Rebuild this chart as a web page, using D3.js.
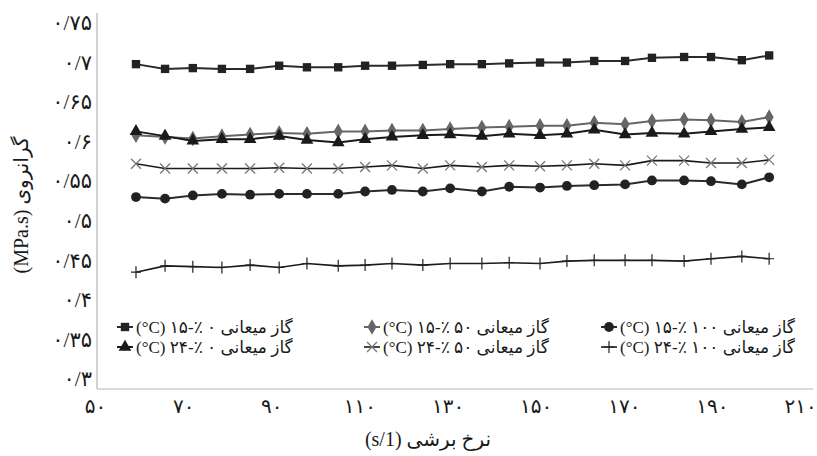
<!DOCTYPE html>
<html>
<head>
<meta charset="utf-8">
<script src="https://cdn.jsdelivr.net/npm/d3@7"></script>
<style>
  body { margin: 0; background: #fff; }
  text { font-family: "Liberation Serif", "DejaVu Sans", serif; fill: #1a1a1a; }
</style>
</head>
<body>
<div class="chart"></div>
<script>
// shear rate (1/s)
const shearRate = [59.3, 65.9, 72.2, 78.8, 85.2, 91.8, 98.1, 105.2, 111.3, 117.4, 124.4, 130.6,
                   137.8, 144.0, 151.0, 157.1, 163.3, 170.3, 176.4, 183.7, 189.8, 196.8, 203.0];

// viscosity (MPa.s)
const gas0_15   = [0.698, 0.692, 0.693, 0.692, 0.692, 0.696, 0.694, 0.694, 0.696, 0.696, 0.697, 0.698,
                   0.698, 0.699, 0.700, 0.700, 0.702, 0.702, 0.706, 0.707, 0.707, 0.703, 0.709];
const gas50_15  = [0.608, 0.606, 0.604, 0.607, 0.609, 0.611, 0.610, 0.613, 0.613, 0.614, 0.614, 0.616,
                   0.618, 0.619, 0.620, 0.620, 0.624, 0.622, 0.626, 0.628, 0.627, 0.625, 0.631];
const gas100_15 = [0.530, 0.528, 0.532, 0.534, 0.533, 0.534, 0.534, 0.534, 0.537, 0.539, 0.537, 0.541,
                   0.537, 0.543, 0.542, 0.544, 0.545, 0.546, 0.551, 0.551, 0.550, 0.546, 0.555];
const gas0_24   = [0.613, 0.607, 0.601, 0.603, 0.603, 0.607, 0.602, 0.599, 0.603, 0.606, 0.608, 0.609,
                   0.607, 0.610, 0.608, 0.610, 0.615, 0.609, 0.611, 0.610, 0.613, 0.616, 0.618];
const gas50_24  = [0.572, 0.566, 0.566, 0.566, 0.566, 0.567, 0.566, 0.566, 0.568, 0.570, 0.566, 0.570,
                   0.568, 0.570, 0.569, 0.570, 0.572, 0.570, 0.576, 0.576, 0.573, 0.573, 0.577];
const gas100_24 = [0.435, 0.443, 0.442, 0.441, 0.444, 0.441, 0.446, 0.443, 0.444, 0.446, 0.444, 0.446,
                   0.446, 0.447, 0.446, 0.449, 0.450, 0.450, 0.450, 0.449, 0.452, 0.455, 0.452];

const seriesNames = [
  "(°C) ۱۵-٪ ۰ گاز میعانی",
  "(°C) ۱۵-٪ ۵۰ گاز میعانی",
  "(°C) ۱۵-٪ ۱۰۰ گاز میعانی",
  "(°C) ۲۴-٪ ۰ گاز میعانی",
  "(°C) ۲۴-٪ ۵۰ گاز میعانی",
  "(°C) ۲۴-٪ ۱۰۰ گاز میعانی"
];

const yTicks = [0.3, 0.35, 0.4, 0.45, 0.5, 0.55, 0.6, 0.65, 0.7, 0.75];
const yTickLabels = ["۰/۳", "۰/۳۵", "۰/۴", "۰/۴۵", "۰/۵", "۰/۵۵", "۰/۶", "۰/۶۵", "۰/۷", "۰/۷۵"];
const xTicks = [50, 70, 90, 110, 130, 150, 170, 190, 210];
const xTickLabels = ["۵۰", "۷۰", "۹۰", "۱۱۰", "۱۳۰", "۱۵۰", "۱۷۰", "۱۹۰", "۲۱۰"];

const width = 817, height = 456;
const frame = {left: 97, top: 13, right: 813, bottom: 389};

const svg = d3.select(".chart").append("svg")
    .attr("width", width)
    .attr("height", height);

const xScale = d3.scaleLinear().domain([50, 210]).range([95, 800]);
const yScale = d3.scaleLinear().domain([0.3, 0.75]).range([379, 23]);

// frame lines
svg.append("line")
    .attr("x1", frame.left).attr("x2", frame.left)
    .attr("y1", frame.top).attr("y2", frame.bottom)
    .attr("stroke", "#b5b5b5").attr("stroke-width", 1.2);
svg.append("line")
    .attr("x1", frame.left).attr("x2", frame.right)
    .attr("y1", frame.bottom).attr("y2", frame.bottom)
    .attr("stroke", "#b5b5b5").attr("stroke-width", 1.2);

// axes
const yAxis = d3.axisLeft(yScale)
    .tickValues(yTicks)
    .tickFormat((d, i) => yTickLabels[i])
    .tickSize(0)
    .tickPadding(5);

svg.append("g")
    .attr("class", "axis y-axis")
    .attr("transform", `translate(${frame.left},0)`)
    .call(yAxis)
    .call(g => g.select(".domain").remove())
    .selectAll("text")
    .attr("font-size", 21)
    .attr("font-family", "DejaVu Sans")
    .attr("fill", "#1a1a1a");

const xAxis = d3.axisBottom(xScale)
    .tickValues(xTicks)
    .tickFormat((d, i) => xTickLabels[i])
    .tickSize(0)
    .tickPadding(10);

svg.append("g")
    .attr("class", "axis x-axis")
    .attr("transform", `translate(0,${frame.bottom})`)
    .call(xAxis)
    .call(g => g.select(".domain").remove())
    .selectAll("text")
    .attr("font-size", 20)
    .attr("font-family", "DejaVu Sans")
    .attr("fill", "#1a1a1a");

// axis titles
svg.append("text")
    .attr("transform", "translate(28,205) rotate(-90)")
    .attr("text-anchor", "middle")
    .attr("font-size", 20)
    .attr("direction", "ltr")
    .text("(MPa.s) گرانروی");

svg.append("text")
    .attr("x", 428).attr("y", 446)
    .attr("text-anchor", "middle")
    .attr("font-size", 20)
    .attr("direction", "ltr")
    .text("(s/1) نرخ برشی");

// marker symbols
const symSquare = d3.symbol().type(d3.symbolSquare).size(70);
const symDiamond = d3.symbol().type(d3.symbolDiamond).size(70);
const symCircle = d3.symbol().type(d3.symbolCircle).size(75);
const symTriangle = d3.symbol().type(d3.symbolTriangle).size(70);

const series = [
  {values: gas0_15,   line: "#2b2b2b", lw: 2,   marker: "square"},
  {values: gas50_15,  line: "#666666", lw: 2,   marker: "diamond"},
  {values: gas100_15, line: "#2b2b2b", lw: 2,   marker: "circle"},
  {values: gas0_24,   line: "#1a1a1a", lw: 2,   marker: "triangle"},
  {values: gas50_24,  line: "#1a1a1a", lw: 1.6, marker: "times"},
  {values: gas100_24, line: "#1a1a1a", lw: 1.6, marker: "plus"}
];

function drawMarker(g, type, x, y) {
  if (type === "square") {
    g.append("path").attr("d", symSquare()).attr("transform", `translate(${x},${y})`).attr("fill", "#222");
  } else if (type === "diamond") {
    g.append("path").attr("d", symDiamond()).attr("transform", `translate(${x},${y})`).attr("fill", "#666");
  } else if (type === "circle") {
    g.append("path").attr("d", symCircle()).attr("transform", `translate(${x},${y})`).attr("fill", "#222");
  } else if (type === "triangle") {
    g.append("path").attr("d", symTriangle()).attr("transform", `translate(${x},${y})`).attr("fill", "#1a1a1a");
  } else if (type === "times") {
    g.append("path").attr("d", "M-5,-5L5,5M-5,5L5,-5").attr("transform", `translate(${x},${y})`)
      .attr("stroke", "#777").attr("stroke-width", 1.3).attr("fill", "none");
  } else if (type === "plus") {
    g.append("path").attr("d", "M-5,0L5,0M0,-6L0,6").attr("transform", `translate(${x},${y})`)
      .attr("stroke", "#222").attr("stroke-width", 1.2).attr("fill", "none");
  }
}

const line = d3.line()
    .x((d, i) => xScale(shearRate[i]))
    .y(d => yScale(d));

series.forEach(s => {
  const g = svg.append("g");
  g.append("path")
      .datum(s.values)
      .attr("fill", "none")
      .attr("stroke", s.line)
      .attr("stroke-width", s.lw)
      .attr("d", line);
  s.values.forEach((v, i) => drawMarker(g, s.marker, xScale(shearRate[i]), yScale(v)));
});

// legend
const legendCols = [125, 372, 609];
const legendRows = [327, 347];
series.forEach((s, i) => {
  const col = i % 3, row = Math.floor(i / 3);
  const cx = legendCols[col], cy = legendRows[row];
  const g = svg.append("g").attr("class", "legend");
  g.append("line")
      .attr("x1", cx - 8).attr("x2", cx + 8)
      .attr("y1", cy).attr("y2", cy)
      .attr("stroke", s.line).attr("stroke-width", s.lw);
  drawMarker(g, s.marker, cx, cy);
  g.append("text")
      .attr("x", cx + 11).attr("y", cy)
      .attr("dy", "0.35em")
      .attr("font-size", 17)
      .attr("font-family", "DejaVu Sans")
      .attr("direction", "ltr")
      .text(seriesNames[i]);
});
</script>
</body>
</html>
